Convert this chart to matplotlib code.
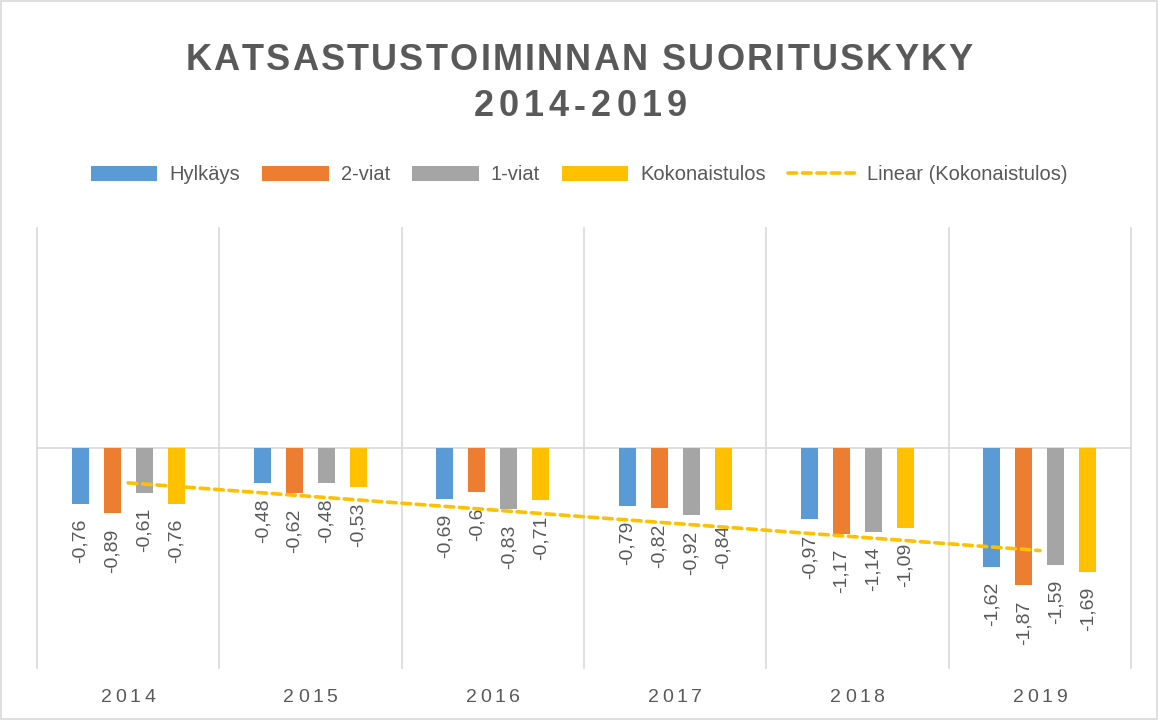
import numpy as np
import matplotlib
matplotlib.use('Agg')
import matplotlib.pyplot as plt
from matplotlib.patches import Rectangle

# data
years = ['2014', '2015', '2016', '2017', '2018', '2019']
hylkays = [-0.76, -0.48, -0.69, -0.79, -0.97, -1.62]
viat2 = [-0.89, -0.62, -0.60, -0.82, -1.17, -1.87]
viat1 = [-0.61, -0.48, -0.83, -0.92, -1.14, -1.59]
kokonais = [-0.76, -0.53, -0.71, -0.84, -1.09, -1.69]
label_txt = {
    'Hylkäys': ['-0,76', '-0,48', '-0,69', '-0,79', '-0,97', '-1,62'],
    '2-viat': ['-0,89', '-0,62', '-0,6', '-0,82', '-1,17', '-1,87'],
    '1-viat': ['-0,61', '-0,48', '-0,83', '-0,92', '-1,14', '-1,59'],
    'Kokonaistulos': ['-0,76', '-0,53', '-0,71', '-0,84', '-1,09', '-1,69'],
}
title_lines = ['KATSASTUSTOIMINNAN SUORITUSKYKY', '2014-2019']

series = [('Hylkäys', hylkays, '#5B9BD5'),
          ('2-viat', viat2, '#ED7D31'),
          ('1-viat', viat1, '#A5A5A5'),
          ('Kokonaistulos', kokonais, '#FFC000')]

plt.rcParams['font.family'] = ['Liberation Sans', 'DejaVu Sans']
txt_col = '#595959'
grid_col = '#D9D9D9'

fig = plt.figure(figsize=(11.58, 7.2), dpi=100)
ax = fig.add_axes([37/1158, 52/720, 1094/1158, 440/720])
renderer = fig.canvas.get_renderer()


def text_w(s, **kw):
    t = fig.text(0, 0, s, **kw)
    w = t.get_window_extent(renderer).width
    t.remove()
    return w


def spaced_text(xc, yc, s, track, **kw):
    # draw a line of text with extra letter spacing (in pixels), centred at xc, yc (figure px)
    base = text_w('II', **kw)
    widths = [text_w('I' + ch + 'I', **kw) - base for ch in s]
    total = sum(widths) + track * (len(s) - 1)
    xpos = xc - total / 2
    W, H = fig.bbox.width, fig.bbox.height
    for ch, w in zip(s, widths):
        if ch != ' ':
            fig.text(xpos / W, yc / H, ch, ha='left', va='center', **kw)
        xpos += w + track


x = np.arange(len(years))
offsets = [-0.2625, -0.0875, 0.0875, 0.2625]
width = 0.093

handles = []
for (name, vals, col), off in zip(series, offsets):
    b = ax.bar(x + off, vals, width, color=col, label=name, zorder=3)
    handles.append(b)
    for xi, v, t in zip(x + off, vals, label_txt[name]):
        ax.annotate(t, (xi, v), xytext=(0, -11), textcoords='offset points',
                    rotation=90, ha='center', va='top', fontsize=14, color=txt_col)

# linear trend of Kokonaistulos
k, c = np.polyfit(x, kokonais, 1)
tl, = ax.plot(x, k * x + c, color='#FFC000', lw=2.6, linestyle=(0, (2.4, 1.6)),
              dash_capstyle='round', zorder=4, label='Linear (Kokonaistulos)')
handles.append(tl)

ax.set_xlim(-0.5, len(years) - 0.5)
ax.set_ylim(-3, 3)
ax.axhline(0, color=grid_col, lw=1.2, zorder=1)
for b in np.arange(-0.5, len(years), 1.0):
    ax.axvline(b, color=grid_col, lw=1.2, zorder=1, clip_on=False)

for s in ax.spines.values():
    s.set_visible(False)
ax.set_yticks([])
ax.set_xticks([])

# category labels with letter spacing
for xi, yr in zip(x, years):
    px = ax.transData.transform((xi, 0))[0]
    spaced_text(px, 720 - 697, yr, 3.5, fontsize=14, color=txt_col)

title_kw = dict(fontsize=26, fontweight='bold', color=txt_col)
spaced_text(579, 720 - 60, title_lines[0], 2.2, **title_kw)
spaced_text(580, 720 - 107, title_lines[1], 5.0, **title_kw)

fig.legend(handles=handles, loc='center', bbox_to_anchor=(0.5, 1 - 175/720), ncol=5,
           frameon=False, fontsize=14.5, labelcolor=txt_col, handlelength=3.3,
           handleheight=0.7, handletextpad=0.6, columnspacing=1.1)

fig.patches.append(Rectangle((0.001, 0.002), 0.998, 0.996, transform=fig.transFigure,
                             fill=False, edgecolor=grid_col, lw=1.2))

fig.savefig('out.png', dpi=100)
